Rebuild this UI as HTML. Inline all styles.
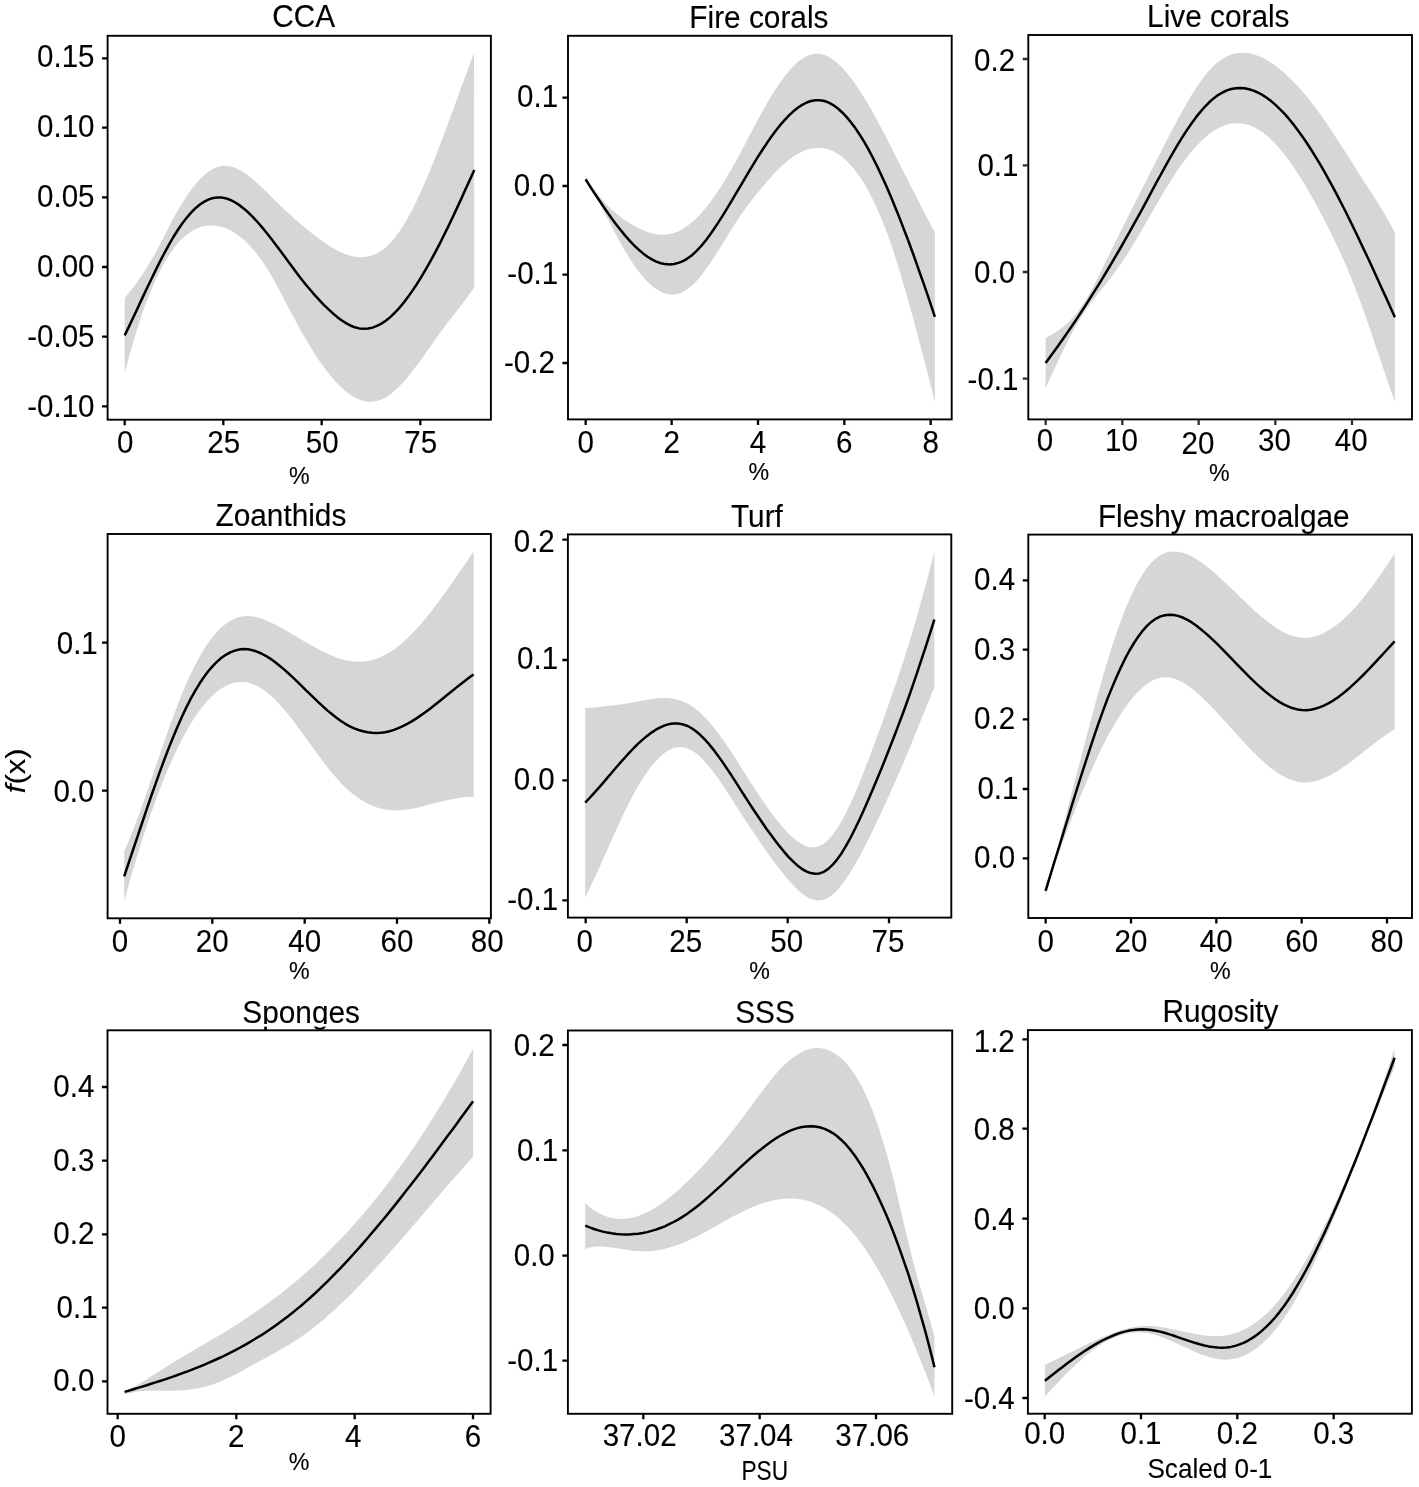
<!DOCTYPE html>
<html lang="en"><head><meta charset="utf-8"><title>GAM partial effects</title>
<style>
html,body{margin:0;padding:0;background:#fff;}
body{width:1419px;height:1487px;overflow:hidden;}
svg{display:block;will-change:transform;}
text{font-family:"Liberation Sans",sans-serif;fill:#000;stroke:#000;stroke-width:0.12px;}
</style></head>
<body>
<svg width="1419" height="1487" viewBox="0 0 1419 1487">
<rect width="1419" height="1487" fill="#fff"/>
<g><text transform="translate(303.6 27.1) scale(1.0 1.07)" font-size="29.8" text-anchor="middle">CCA</text>
<rect x="107.60" y="35.80" width="383.30" height="383.90" fill="#fff"/>
<path d="M124.7 298.0 L129.1 292.6 L133.5 287.0 L137.9 280.9 L142.4 274.5 L146.8 267.6 L151.2 260.3 L155.6 252.6 L160.0 244.3 L164.5 235.7 L168.9 227.1 L173.3 218.6 L177.7 210.6 L182.2 203.2 L186.6 196.3 L191.0 190.0 L195.4 184.3 L199.8 179.3 L204.3 175.0 L208.7 171.5 L213.1 168.8 L217.5 166.9 L221.9 165.9 L226.4 165.7 L230.8 166.4 L235.2 167.8 L239.6 169.9 L244.1 172.6 L248.5 175.7 L252.9 179.3 L257.3 183.2 L261.7 187.3 L266.2 191.6 L270.6 196.0 L275.0 200.4 L279.4 204.8 L283.9 209.0 L288.3 213.1 L292.7 217.1 L297.1 221.0 L301.5 224.8 L306.0 228.5 L310.4 232.1 L314.8 235.5 L319.2 238.8 L323.7 242.0 L328.1 245.0 L332.5 247.8 L336.9 250.3 L341.3 252.4 L345.8 254.3 L350.2 255.7 L354.6 256.7 L359.0 257.2 L363.5 257.1 L367.9 256.5 L372.3 255.3 L376.7 253.4 L381.1 250.8 L385.6 247.4 L390.0 243.3 L394.4 238.3 L398.8 232.5 L403.2 225.8 L407.7 218.2 L412.1 210.0 L416.5 201.1 L420.9 191.5 L425.4 181.5 L429.8 170.9 L434.2 159.9 L438.6 148.6 L443.0 136.9 L447.5 125.1 L451.9 113.1 L456.3 101.0 L460.7 88.8 L465.2 76.7 L469.6 64.7 L474.0 52.9 L474.3 287.2 L469.9 293.7 L465.4 299.7 L461.0 305.6 L456.6 311.2 L452.2 316.9 L447.7 322.6 L443.3 328.5 L438.9 334.5 L434.5 340.7 L430.0 347.0 L425.6 353.3 L421.2 359.5 L416.8 365.5 L412.3 371.3 L407.9 376.8 L403.5 381.9 L399.1 386.6 L394.6 390.8 L390.2 394.4 L385.8 397.4 L381.4 399.6 L376.9 401.0 L372.5 401.7 L368.1 401.7 L363.7 400.9 L359.2 399.5 L354.8 397.4 L350.4 394.7 L346.0 391.5 L341.5 387.6 L337.1 383.2 L332.7 378.3 L328.3 373.0 L323.8 367.1 L319.4 360.9 L315.0 354.2 L310.6 347.2 L306.1 339.8 L301.7 332.2 L297.3 324.2 L292.9 316.0 L288.4 307.5 L284.0 298.9 L279.6 290.4 L275.2 282.2 L270.7 274.4 L266.3 267.2 L261.9 260.7 L257.5 254.7 L253.0 249.3 L248.6 244.4 L244.2 240.1 L239.8 236.4 L235.3 233.2 L230.9 230.5 L226.5 228.4 L222.1 226.9 L217.6 225.9 L213.2 225.4 L208.8 225.4 L204.4 226.0 L199.9 227.2 L195.5 229.0 L191.1 231.5 L186.7 234.7 L182.2 238.6 L177.8 243.3 L173.4 248.7 L169.0 255.1 L164.5 262.3 L160.1 270.5 L155.7 279.6 L151.3 289.7 L146.8 300.8 L142.4 313.0 L138.0 326.4 L133.6 340.8 L129.1 356.5 L124.7 373.4Z" fill="#d6d6d6"/>
<path d="M124.7 335.4 L129.1 326.2 L133.6 316.8 L138.0 307.4 L142.4 297.9 L146.8 288.5 L151.3 279.2 L155.7 270.1 L160.1 261.3 L164.5 252.8 L169.0 244.7 L173.4 237.0 L177.8 230.0 L182.2 223.5 L186.7 217.7 L191.1 212.6 L195.5 208.2 L199.9 204.5 L204.4 201.6 L208.8 199.4 L213.2 198.0 L217.6 197.4 L222.1 197.6 L226.5 198.5 L230.9 200.2 L235.3 202.5 L239.8 205.4 L244.2 208.9 L248.6 212.8 L253.0 217.2 L257.5 222.0 L261.9 227.1 L266.3 232.5 L270.7 238.1 L275.2 243.9 L279.6 249.8 L284.0 255.8 L288.4 261.8 L292.9 267.8 L297.3 273.7 L301.7 279.4 L306.1 285.0 L310.6 290.3 L315.0 295.4 L319.4 300.2 L323.8 304.8 L328.3 309.2 L332.7 313.2 L337.1 316.9 L341.5 320.3 L346.0 323.1 L350.4 325.5 L354.8 327.3 L359.2 328.4 L363.7 328.8 L368.1 328.5 L372.5 327.6 L376.9 325.9 L381.4 323.6 L385.8 320.7 L390.2 317.1 L394.6 313.0 L399.1 308.2 L403.5 302.9 L407.9 297.1 L412.3 290.9 L416.8 284.2 L421.2 277.1 L425.6 269.7 L430.0 261.9 L434.5 253.7 L438.9 245.3 L443.3 236.5 L447.7 227.6 L452.2 218.3 L456.6 208.9 L461.0 199.4 L465.4 189.6 L469.9 179.8 L474.3 170.0" fill="none" stroke="#000" stroke-width="2.5" stroke-linejoin="round"/>
<rect x="107.60" y="35.80" width="383.30" height="383.90" fill="none" stroke="#000" stroke-width="1.9"/>
<text transform="translate(94.5 67.3) scale(0.985 1.065)" font-size="30.0" text-anchor="end">0.15</text>
<text transform="translate(94.5 136.7) scale(0.985 1.065)" font-size="30.0" text-anchor="end">0.10</text>
<text transform="translate(94.5 206.8) scale(0.985 1.065)" font-size="30.0" text-anchor="end">0.05</text>
<text transform="translate(94.5 277.2) scale(0.985 1.065)" font-size="30.0" text-anchor="end">0.00</text>
<text transform="translate(94.5 346.9) scale(0.985 1.065)" font-size="30.0" text-anchor="end">-0.05</text>
<text transform="translate(94.5 416.5) scale(0.985 1.065)" font-size="30.0" text-anchor="end">-0.10</text>
<text transform="translate(125.2 452.7) scale(0.985 1.04)" font-size="30.0" text-anchor="middle">0</text>
<text transform="translate(223.8 452.7) scale(0.985 1.04)" font-size="30.0" text-anchor="middle">25</text>
<text transform="translate(322.2 452.7) scale(0.985 1.04)" font-size="30.0" text-anchor="middle">50</text>
<text transform="translate(420.8 452.7) scale(0.985 1.04)" font-size="30.0" text-anchor="middle">75</text>
<path d="M102.05 58.33H107.60M102.05 127.67H107.60M102.05 197.33H107.60M102.05 267.00H107.60M102.05 336.67H107.60M102.05 406.33H107.60M124.67 419.70V425.25M223.33 419.70V425.25M321.67 419.70V425.25M420.33 419.70V425.25" fill="none" stroke="#000" stroke-width="2.3"/>
<text transform="translate(299.2 483.6) scale(1.0 1.0)" font-size="23.2" text-anchor="middle">%</text></g>
<g><text transform="translate(758.9 27.6) scale(1.0 1.07)" font-size="29.8" text-anchor="middle">Fire corals</text>
<rect x="568.00" y="35.80" width="383.70" height="383.60" fill="#fff"/>
<path d="M585.6 175.8 L590.0 183.1 L594.4 189.7 L598.9 195.6 L603.3 200.9 L607.7 205.7 L612.1 210.0 L616.6 213.8 L621.0 217.3 L625.4 220.4 L629.8 223.2 L634.2 225.8 L638.7 228.1 L643.1 230.2 L647.5 231.9 L651.9 233.3 L656.3 234.2 L660.8 234.7 L665.2 234.7 L669.6 234.1 L674.0 233.0 L678.5 231.2 L682.9 228.9 L687.3 225.9 L691.7 222.4 L696.1 218.4 L700.6 213.8 L705.0 208.7 L709.4 203.2 L713.8 197.2 L718.2 190.7 L722.7 183.9 L727.1 176.6 L731.5 169.0 L735.9 161.0 L740.4 152.9 L744.8 144.5 L749.2 136.1 L753.6 127.7 L758.0 119.4 L762.5 111.2 L766.9 103.4 L771.3 95.9 L775.7 88.9 L780.1 82.4 L784.6 76.4 L789.0 70.9 L793.4 66.1 L797.8 62.1 L802.3 58.7 L806.7 56.2 L811.1 54.5 L815.5 53.7 L819.9 53.8 L824.4 54.9 L828.8 56.9 L833.2 59.7 L837.6 63.3 L842.0 67.5 L846.5 72.5 L850.9 78.0 L855.3 84.1 L859.7 90.6 L864.2 97.6 L868.6 105.0 L873.0 112.8 L877.4 120.8 L881.8 129.1 L886.3 137.6 L890.7 146.2 L895.1 154.9 L899.5 163.7 L903.9 172.5 L908.4 181.2 L912.8 189.9 L917.2 198.6 L921.6 207.2 L926.1 215.8 L930.5 224.4 L934.9 232.5 L934.9 402.0 L930.5 384.6 L926.1 367.3 L921.6 350.2 L917.2 333.4 L912.8 316.9 L908.4 300.9 L903.9 285.4 L899.5 270.5 L895.1 256.4 L890.7 243.2 L886.3 230.9 L881.8 219.6 L877.4 209.3 L873.0 199.9 L868.6 191.3 L864.2 183.6 L859.7 176.7 L855.3 170.6 L850.9 165.3 L846.5 160.7 L842.0 156.8 L837.6 153.7 L833.2 151.2 L828.8 149.5 L824.4 148.3 L819.9 147.8 L815.5 147.9 L811.1 148.6 L806.7 149.8 L802.3 151.5 L797.8 153.8 L793.4 156.6 L789.0 159.8 L784.6 163.5 L780.1 167.6 L775.7 172.1 L771.3 176.8 L766.9 181.8 L762.5 186.9 L758.0 192.2 L753.6 197.7 L749.2 203.4 L744.8 209.4 L740.4 215.7 L735.9 222.4 L731.5 229.3 L727.1 236.4 L722.7 243.6 L718.2 250.7 L713.8 257.7 L709.4 264.3 L705.0 270.6 L700.6 276.3 L696.1 281.4 L691.7 285.8 L687.3 289.3 L682.9 292.0 L678.5 293.7 L674.0 294.5 L669.6 294.4 L665.2 293.5 L660.8 291.7 L656.3 289.1 L651.9 285.8 L647.5 281.7 L643.1 276.9 L638.7 271.5 L634.2 265.4 L629.8 258.7 L625.4 251.4 L621.0 243.7 L616.6 235.7 L612.1 227.4 L607.7 219.1 L603.3 210.8 L598.9 202.6 L594.4 194.7 L590.0 187.1 L585.6 180.1Z" fill="#d6d6d6"/>
<path d="M585.6 179.4 L590.0 186.3 L594.4 193.1 L598.9 199.8 L603.3 206.4 L607.7 212.8 L612.1 219.0 L616.6 224.9 L621.0 230.5 L625.4 235.9 L629.8 240.9 L634.2 245.5 L638.7 249.7 L643.1 253.4 L647.5 256.7 L651.9 259.4 L656.3 261.6 L660.8 263.2 L665.2 264.1 L669.6 264.4 L674.0 264.0 L678.5 262.9 L682.9 261.1 L687.3 258.6 L691.7 255.4 L696.1 251.4 L700.6 246.7 L705.0 241.4 L709.4 235.6 L713.8 229.3 L718.2 222.6 L722.7 215.6 L727.1 208.4 L731.5 201.1 L735.9 193.6 L740.4 186.1 L744.8 178.6 L749.2 171.1 L753.6 163.8 L758.0 156.7 L762.5 149.7 L766.9 143.1 L771.3 136.7 L775.7 130.8 L780.1 125.2 L784.6 120.1 L789.0 115.4 L793.4 111.3 L797.8 107.8 L802.3 104.8 L806.7 102.5 L811.1 101.0 L815.5 100.2 L819.9 100.2 L824.4 101.0 L828.8 102.7 L833.2 105.1 L837.6 108.3 L842.0 112.2 L846.5 116.9 L850.9 122.2 L855.3 128.1 L859.7 134.7 L864.2 141.9 L868.6 149.7 L873.0 158.0 L877.4 166.8 L881.8 176.2 L886.3 186.0 L890.7 196.2 L895.1 206.9 L899.5 217.9 L903.9 229.3 L908.4 241.0 L912.8 253.0 L917.2 265.3 L921.6 277.9 L926.1 290.7 L930.5 303.7 L934.9 316.8" fill="none" stroke="#000" stroke-width="2.5" stroke-linejoin="round"/>
<rect x="568.00" y="35.80" width="383.70" height="383.60" fill="none" stroke="#000" stroke-width="1.9"/>
<text transform="translate(558.2 107.3) scale(0.985 1.065)" font-size="30.0" text-anchor="end">0.1</text>
<text transform="translate(554.9 195.6) scale(0.985 1.065)" font-size="30.0" text-anchor="end">0.0</text>
<text transform="translate(558.2 284.3) scale(0.985 1.065)" font-size="30.0" text-anchor="end">-0.1</text>
<text transform="translate(554.9 372.6) scale(0.985 1.065)" font-size="30.0" text-anchor="end">-0.2</text>
<text transform="translate(585.7 453.2) scale(0.985 1.04)" font-size="30.0" text-anchor="middle">0</text>
<text transform="translate(671.7 453.2) scale(0.985 1.04)" font-size="30.0" text-anchor="middle">2</text>
<text transform="translate(758.0 453.2) scale(0.985 1.04)" font-size="30.0" text-anchor="middle">4</text>
<text transform="translate(844.3 453.2) scale(0.985 1.04)" font-size="30.0" text-anchor="middle">6</text>
<text transform="translate(930.7 453.2) scale(0.985 1.04)" font-size="30.0" text-anchor="middle">8</text>
<path d="M562.45 97.67H568.00M562.45 186.00H568.00M562.45 274.67H568.00M562.45 363.00H568.00M585.67 419.40V424.95M671.67 419.40V424.95M758.00 419.40V424.95M844.33 419.40V424.95M930.67 419.40V424.95" fill="none" stroke="#000" stroke-width="2.3"/>
<text transform="translate(758.9 480.3) scale(1.0 1.0)" font-size="23.2" text-anchor="middle">%</text></g>
<g><text transform="translate(1218.3 26.9) scale(1.0 1.07)" font-size="29.8" text-anchor="middle">Live corals</text>
<rect x="1028.30" y="35.00" width="383.70" height="384.40" fill="#fff"/>
<path d="M1045.6 337.9 L1050.0 335.5 L1054.4 332.9 L1058.9 330.1 L1063.3 326.8 L1067.7 323.0 L1072.1 318.6 L1076.6 313.4 L1081.0 307.3 L1085.4 300.5 L1089.8 292.9 L1094.2 284.7 L1098.7 276.1 L1103.1 267.1 L1107.5 258.0 L1111.9 248.9 L1116.3 239.9 L1120.8 231.0 L1125.2 222.2 L1129.6 213.4 L1134.0 204.7 L1138.5 196.0 L1142.9 187.3 L1147.3 178.5 L1151.7 169.8 L1156.1 161.1 L1160.6 152.4 L1165.0 143.8 L1169.4 135.2 L1173.8 126.8 L1178.2 118.5 L1182.7 110.4 L1187.1 102.7 L1191.5 95.2 L1195.9 88.3 L1200.4 81.8 L1204.8 75.8 L1209.2 70.5 L1213.6 65.8 L1218.0 61.9 L1222.5 58.7 L1226.9 56.3 L1231.3 54.4 L1235.7 53.3 L1240.1 52.7 L1244.6 52.7 L1249.0 53.2 L1253.4 54.2 L1257.8 55.7 L1262.3 57.6 L1266.7 60.0 L1271.1 62.7 L1275.5 65.7 L1279.9 69.2 L1284.4 73.0 L1288.8 77.2 L1293.2 81.5 L1297.6 86.0 L1302.0 90.9 L1306.5 96.1 L1310.9 101.7 L1315.3 107.5 L1319.7 113.5 L1324.2 119.7 L1328.6 126.2 L1333.0 132.9 L1337.4 139.7 L1341.8 146.6 L1346.3 153.5 L1350.7 160.3 L1355.1 167.6 L1359.5 174.7 L1363.9 181.4 L1368.4 187.9 L1372.8 194.8 L1377.2 201.8 L1381.6 208.9 L1386.1 216.3 L1390.5 224.3 L1394.9 232.8 L1394.9 401.5 L1390.5 389.4 L1386.1 376.7 L1381.6 363.7 L1377.2 350.5 L1372.8 337.4 L1368.4 324.3 L1363.9 311.6 L1359.5 299.4 L1355.1 287.7 L1350.7 276.7 L1346.3 266.1 L1341.8 256.1 L1337.4 246.4 L1333.0 237.2 L1328.6 228.3 L1324.2 219.7 L1319.7 211.3 L1315.3 203.1 L1310.9 195.2 L1306.5 187.6 L1302.0 180.3 L1297.6 173.2 L1293.2 166.6 L1288.8 160.3 L1284.4 154.4 L1279.9 149.0 L1275.5 144.0 L1271.1 139.5 L1266.7 135.5 L1262.3 132.1 L1257.8 129.2 L1253.4 126.9 L1249.0 125.1 L1244.6 123.9 L1240.1 123.3 L1235.7 123.2 L1231.3 123.6 L1226.9 124.6 L1222.5 126.2 L1218.0 128.3 L1213.6 130.9 L1209.2 134.1 L1204.8 137.8 L1200.4 142.0 L1195.9 146.6 L1191.5 151.7 L1187.1 157.2 L1182.7 163.1 L1178.2 169.3 L1173.8 175.9 L1169.4 182.9 L1165.0 190.1 L1160.6 197.5 L1156.1 205.2 L1151.7 212.9 L1147.3 220.6 L1142.9 228.3 L1138.5 235.8 L1134.0 243.2 L1129.6 250.4 L1125.2 257.3 L1120.8 263.9 L1116.3 270.3 L1111.9 276.3 L1107.5 282.1 L1103.1 287.6 L1098.7 293.1 L1094.2 298.6 L1089.8 304.5 L1085.4 310.7 L1081.0 317.4 L1076.6 324.7 L1072.1 332.7 L1067.7 341.2 L1063.3 350.2 L1058.9 359.5 L1054.4 369.0 L1050.0 378.6 L1045.6 388.1Z" fill="#d6d6d6"/>
<path d="M1045.6 363.0 L1050.0 357.0 L1054.4 351.0 L1058.9 344.8 L1063.3 338.5 L1067.7 332.1 L1072.1 325.7 L1076.6 319.1 L1081.0 312.4 L1085.4 305.6 L1089.8 298.7 L1094.2 291.7 L1098.7 284.6 L1103.1 277.3 L1107.5 270.0 L1111.9 262.6 L1116.3 255.1 L1120.8 247.5 L1125.2 239.7 L1129.6 231.9 L1134.0 223.9 L1138.5 215.9 L1142.9 207.8 L1147.3 199.6 L1151.7 191.3 L1156.1 183.1 L1160.6 175.0 L1165.0 166.9 L1169.4 159.0 L1173.8 151.4 L1178.2 143.9 L1182.7 136.7 L1187.1 129.9 L1191.5 123.5 L1195.9 117.4 L1200.4 111.9 L1204.8 106.8 L1209.2 102.3 L1213.6 98.4 L1218.0 95.1 L1222.5 92.5 L1226.9 90.4 L1231.3 89.0 L1235.7 88.2 L1240.1 88.0 L1244.6 88.3 L1249.0 89.2 L1253.4 90.6 L1257.8 92.5 L1262.3 94.9 L1266.7 97.7 L1271.1 101.1 L1275.5 104.9 L1279.9 109.1 L1284.4 113.7 L1288.8 118.7 L1293.2 124.1 L1297.6 129.9 L1302.0 136.0 L1306.5 142.5 L1310.9 149.3 L1315.3 156.4 L1319.7 163.7 L1324.2 171.4 L1328.6 179.3 L1333.0 187.4 L1337.4 195.7 L1341.8 204.3 L1346.3 213.0 L1350.7 222.0 L1355.1 231.0 L1359.5 240.3 L1363.9 249.6 L1368.4 259.0 L1372.8 268.6 L1377.2 278.2 L1381.6 287.9 L1386.1 297.6 L1390.5 307.4 L1394.9 317.2" fill="none" stroke="#000" stroke-width="2.5" stroke-linejoin="round"/>
<rect x="1028.30" y="35.00" width="383.70" height="384.40" fill="none" stroke="#000" stroke-width="1.9"/>
<text transform="translate(1015.2 71.1) scale(0.985 1.065)" font-size="30.0" text-anchor="end">0.2</text>
<text transform="translate(1018.5 176.1) scale(0.985 1.065)" font-size="30.0" text-anchor="end">0.1</text>
<text transform="translate(1015.2 282.8) scale(0.985 1.065)" font-size="30.0" text-anchor="end">0.0</text>
<text transform="translate(1018.5 389.5) scale(0.985 1.065)" font-size="30.0" text-anchor="end">-0.1</text>
<text transform="translate(1044.9 450.6) scale(0.985 1.04)" font-size="30.0" text-anchor="middle">0</text>
<text transform="translate(1121.5 450.6) scale(0.985 1.04)" font-size="30.0" text-anchor="middle">10</text>
<text transform="translate(1197.9 453.6) scale(0.985 1.04)" font-size="30.0" text-anchor="middle">20</text>
<text transform="translate(1274.5 450.6) scale(0.985 1.04)" font-size="30.0" text-anchor="middle">30</text>
<text transform="translate(1351.2 450.6) scale(0.985 1.04)" font-size="30.0" text-anchor="middle">40</text>
<path d="M1022.75 59.00H1028.30M1022.75 165.33H1028.30M1022.75 272.00H1028.30M1022.75 378.67H1028.30M1045.67 419.40V424.95M1122.33 419.40V424.95M1198.67 419.40V424.95M1275.33 419.40V424.95M1352.00 419.40V424.95" fill="none" stroke="#2e2e2e" stroke-width="2.3"/>
<text transform="translate(1219.2 480.9) scale(1.0 1.0)" font-size="23.2" text-anchor="middle">%</text></g>
<g><text transform="translate(280.9 526.3) scale(1.0 1.07)" font-size="29.8" text-anchor="middle">Zoanthids</text>
<rect x="107.60" y="534.00" width="383.30" height="384.30" fill="#fff"/>
<path d="M124.2 851.6 L128.6 841.3 L133.0 830.2 L137.5 818.5 L141.9 806.3 L146.3 793.7 L150.7 780.8 L155.2 767.9 L159.6 754.9 L164.0 742.2 L168.4 729.7 L172.9 717.5 L177.3 705.8 L181.7 694.6 L186.1 684.1 L190.5 674.3 L195.0 665.2 L199.4 656.9 L203.8 649.4 L208.2 642.8 L212.7 636.8 L217.1 631.7 L221.5 627.3 L225.9 623.7 L230.3 620.8 L234.8 618.6 L239.2 617.1 L243.6 616.2 L248.0 616.0 L252.5 616.4 L256.9 617.3 L261.3 618.6 L265.7 620.2 L270.2 622.2 L274.6 624.3 L279.0 626.7 L283.4 629.1 L287.8 631.6 L292.3 634.2 L296.7 636.8 L301.1 639.4 L305.5 642.0 L310.0 644.6 L314.4 647.0 L318.8 649.4 L323.2 651.7 L327.6 653.8 L332.1 655.8 L336.5 657.5 L340.9 659.0 L345.3 660.2 L349.8 661.1 L354.2 661.6 L358.6 661.8 L363.0 661.6 L367.5 661.0 L371.9 660.0 L376.3 658.7 L380.7 657.0 L385.1 654.8 L389.6 652.3 L394.0 649.4 L398.4 646.0 L402.8 642.4 L407.3 638.3 L411.7 634.0 L416.1 629.3 L420.5 624.4 L424.9 619.2 L429.4 613.7 L433.8 608.0 L438.2 602.2 L442.6 596.2 L447.1 590.0 L451.5 583.7 L455.9 577.4 L460.3 571.0 L464.8 564.6 L469.2 558.1 L473.6 551.8 L473.6 797.0 L469.2 797.1 L464.8 797.3 L460.3 797.8 L455.9 798.5 L451.5 799.3 L447.1 800.2 L442.6 801.2 L438.2 802.3 L433.8 803.5 L429.4 804.6 L424.9 805.8 L420.5 806.9 L416.1 807.9 L411.7 808.8 L407.3 809.5 L402.8 810.0 L398.4 810.3 L394.0 810.4 L389.6 810.1 L385.1 809.5 L380.7 808.6 L376.3 807.3 L371.9 805.6 L367.5 803.5 L363.0 801.1 L358.6 798.3 L354.2 795.1 L349.8 791.4 L345.3 787.4 L340.9 782.9 L336.5 778.1 L332.1 772.9 L327.6 767.4 L323.2 761.7 L318.8 755.8 L314.4 749.8 L310.0 743.7 L305.5 737.5 L301.1 731.5 L296.7 725.5 L292.3 719.6 L287.8 714.0 L283.4 708.7 L279.0 703.7 L274.6 699.1 L270.2 695.0 L265.7 691.4 L261.3 688.3 L256.9 685.8 L252.5 683.9 L248.0 682.6 L243.6 682.0 L239.2 682.0 L234.8 682.6 L230.3 683.9 L225.9 685.8 L221.5 688.4 L217.1 691.6 L212.7 695.4 L208.2 699.8 L203.8 704.9 L199.4 710.7 L195.0 717.1 L190.5 724.1 L186.1 731.8 L181.7 740.0 L177.3 748.8 L172.9 758.2 L168.4 768.1 L164.0 778.7 L159.6 789.9 L155.2 801.7 L150.7 814.1 L146.3 827.1 L141.9 840.7 L137.5 854.9 L133.0 869.8 L128.6 885.2 L124.2 901.2Z" fill="#d6d6d6"/>
<path d="M124.2 876.4 L128.6 863.2 L133.0 850.0 L137.5 836.7 L141.9 823.5 L146.3 810.4 L150.7 797.5 L155.2 784.8 L159.6 772.4 L164.0 760.5 L168.4 748.9 L172.9 737.8 L177.3 727.3 L181.7 717.3 L186.1 707.9 L190.5 699.2 L195.0 691.1 L199.4 683.8 L203.8 677.2 L208.2 671.3 L212.7 666.1 L217.1 661.6 L221.5 657.8 L225.9 654.8 L230.3 652.3 L234.8 650.6 L239.2 649.5 L243.6 649.1 L248.0 649.3 L252.5 650.2 L256.9 651.6 L261.3 653.5 L265.7 655.8 L270.2 658.6 L274.6 661.7 L279.0 665.2 L283.4 668.9 L287.8 672.8 L292.3 676.9 L296.7 681.1 L301.1 685.4 L305.5 689.8 L310.0 694.1 L314.4 698.4 L318.8 702.6 L323.2 706.7 L327.6 710.6 L332.1 714.3 L336.5 717.8 L340.9 721.0 L345.3 723.8 L349.8 726.3 L354.2 728.3 L358.6 730.0 L363.0 731.3 L367.5 732.3 L371.9 732.8 L376.3 733.0 L380.7 732.8 L385.1 732.2 L389.6 731.2 L394.0 729.9 L398.4 728.2 L402.8 726.2 L407.3 723.9 L411.7 721.4 L416.1 718.6 L420.5 715.6 L424.9 712.5 L429.4 709.2 L433.8 705.8 L438.2 702.3 L442.6 698.7 L447.1 695.1 L451.5 691.5 L455.9 687.9 L460.3 684.4 L464.8 680.9 L469.2 677.6 L473.6 674.4" fill="none" stroke="#000" stroke-width="2.5" stroke-linejoin="round"/>
<rect x="107.60" y="534.00" width="383.30" height="384.30" fill="none" stroke="#000" stroke-width="1.9"/>
<text transform="translate(97.8 653.5) scale(0.985 1.065)" font-size="30.0" text-anchor="end">0.1</text>
<text transform="translate(94.5 801.5) scale(0.985 1.065)" font-size="30.0" text-anchor="end">0.0</text>
<text transform="translate(120.0 952.0) scale(0.985 1.04)" font-size="30.0" text-anchor="middle">0</text>
<text transform="translate(212.3 952.0) scale(0.985 1.04)" font-size="30.0" text-anchor="middle">20</text>
<text transform="translate(304.7 952.0) scale(0.985 1.04)" font-size="30.0" text-anchor="middle">40</text>
<text transform="translate(397.0 952.0) scale(0.985 1.04)" font-size="30.0" text-anchor="middle">60</text>
<text transform="translate(487.3 952.0) scale(0.985 1.04)" font-size="30.0" text-anchor="middle">80</text>
<path d="M102.05 642.67H107.60M102.05 790.67H107.60M120.00 918.30V923.85M212.33 918.30V923.85M304.67 918.30V923.85M397.00 918.30V923.85M489.33 918.30V923.85" fill="none" stroke="#000" stroke-width="2.3"/>
<text transform="translate(299.2 979.2) scale(1.0 1.0)" font-size="23.2" text-anchor="middle">%</text></g>
<g><text transform="translate(756.9 526.7) scale(1.0 1.07)" font-size="29.8" text-anchor="middle">Turf</text>
<rect x="567.90" y="534.40" width="383.40" height="383.20" fill="#fff"/>
<path d="M585.2 708.0 L589.6 707.7 L594.0 707.4 L598.5 707.0 L602.9 706.6 L607.3 706.1 L611.7 705.6 L616.1 705.1 L620.6 704.5 L625.0 703.8 L629.4 703.1 L633.8 702.3 L638.2 701.4 L642.7 700.5 L647.1 699.7 L651.5 699.0 L655.9 698.5 L660.3 698.1 L664.8 698.0 L669.2 698.3 L673.6 698.8 L678.0 699.8 L682.4 701.2 L686.9 703.2 L691.3 705.8 L695.7 709.0 L700.1 712.7 L704.5 717.0 L709.0 721.8 L713.4 727.1 L717.8 732.7 L722.2 738.7 L726.6 745.0 L731.1 751.6 L735.5 758.4 L739.9 765.4 L744.3 772.4 L748.7 779.4 L753.2 786.3 L757.6 793.1 L762.0 799.7 L766.4 806.1 L770.9 812.2 L775.3 818.0 L779.7 823.5 L784.1 828.7 L788.5 833.4 L793.0 837.7 L797.4 841.3 L801.8 844.1 L806.2 846.2 L810.6 847.2 L815.1 847.3 L819.5 846.1 L823.9 843.7 L828.3 839.9 L832.7 834.8 L837.2 828.6 L841.6 821.2 L846.0 812.8 L850.4 803.7 L854.8 793.7 L859.3 783.2 L863.7 772.1 L868.1 760.7 L872.5 749.0 L876.9 737.0 L881.4 724.9 L885.8 712.6 L890.2 700.0 L894.6 687.3 L899.0 674.2 L903.5 660.7 L907.9 646.7 L912.3 632.2 L916.7 617.2 L921.1 601.6 L925.6 585.6 L930.0 569.0 L934.4 551.8 L934.4 687.1 L930.0 697.9 L925.6 708.8 L921.1 719.8 L916.7 730.7 L912.3 741.5 L907.9 752.2 L903.5 762.7 L899.0 773.1 L894.6 783.1 L890.2 793.0 L885.8 802.8 L881.4 812.4 L876.9 821.8 L872.5 830.9 L868.1 839.9 L863.7 848.5 L859.3 856.9 L854.8 864.8 L850.4 872.2 L846.0 879.1 L841.6 885.1 L837.2 890.3 L832.7 894.6 L828.3 897.8 L823.9 899.8 L819.5 900.6 L815.1 900.3 L810.6 898.9 L806.2 896.5 L801.8 893.4 L797.4 889.5 L793.0 885.1 L788.5 880.2 L784.1 874.8 L779.7 869.2 L775.3 863.4 L770.9 857.5 L766.4 851.3 L762.0 845.0 L757.6 838.6 L753.2 832.1 L748.7 825.4 L744.3 818.7 L739.9 811.8 L735.5 804.9 L731.1 798.1 L726.6 791.2 L722.2 784.6 L717.8 778.1 L713.4 772.1 L709.0 766.4 L704.5 761.3 L700.1 756.8 L695.7 753.1 L691.3 750.2 L686.9 748.2 L682.4 747.2 L678.0 747.2 L673.6 748.1 L669.2 750.0 L664.8 752.8 L660.3 756.4 L655.9 760.9 L651.5 766.1 L647.1 772.0 L642.7 778.6 L638.2 785.9 L633.8 793.8 L629.4 802.2 L625.0 811.1 L620.6 820.4 L616.1 830.0 L611.7 839.8 L607.3 849.7 L602.9 859.6 L598.5 869.4 L594.0 879.0 L589.6 888.4 L585.2 897.3Z" fill="#d6d6d6"/>
<path d="M585.2 802.7 L589.6 798.0 L594.0 793.2 L598.5 788.2 L602.9 783.1 L607.3 777.9 L611.7 772.7 L616.1 767.5 L620.6 762.4 L625.0 757.5 L629.4 752.6 L633.8 748.0 L638.2 743.6 L642.7 739.6 L647.1 735.9 L651.5 732.6 L655.9 729.7 L660.3 727.3 L664.8 725.4 L669.2 724.1 L673.6 723.5 L678.0 723.5 L682.4 724.2 L686.9 725.7 L691.3 728.0 L695.7 731.0 L700.1 734.8 L704.5 739.2 L709.0 744.1 L713.4 749.6 L717.8 755.4 L722.2 761.6 L726.6 768.1 L731.1 774.8 L735.5 781.7 L739.9 788.6 L744.3 795.5 L748.7 802.4 L753.2 809.2 L757.6 815.8 L762.0 822.3 L766.4 828.7 L770.9 834.8 L775.3 840.7 L779.7 846.4 L784.1 851.8 L788.5 856.8 L793.0 861.4 L797.4 865.4 L801.8 868.8 L806.2 871.3 L810.6 873.1 L815.1 873.8 L819.5 873.4 L823.9 871.8 L828.3 868.9 L832.7 864.7 L837.2 859.4 L841.6 853.2 L846.0 845.9 L850.4 838.0 L854.8 829.3 L859.3 820.0 L863.7 810.3 L868.1 800.3 L872.5 790.0 L876.9 779.4 L881.4 768.7 L885.8 757.7 L890.2 746.5 L894.6 735.2 L899.0 723.6 L903.5 711.7 L907.9 699.5 L912.3 686.8 L916.7 673.9 L921.1 660.7 L925.6 647.2 L930.0 633.4 L934.4 619.5" fill="none" stroke="#000" stroke-width="2.5" stroke-linejoin="round"/>
<rect x="567.90" y="534.40" width="383.40" height="383.20" fill="none" stroke="#000" stroke-width="1.9"/>
<text transform="translate(554.8 551.5) scale(0.985 1.065)" font-size="30.0" text-anchor="end">0.2</text>
<text transform="translate(558.1 669.2) scale(0.985 1.065)" font-size="30.0" text-anchor="end">0.1</text>
<text transform="translate(554.8 789.5) scale(0.985 1.065)" font-size="30.0" text-anchor="end">0.0</text>
<text transform="translate(558.1 909.5) scale(0.985 1.065)" font-size="30.0" text-anchor="end">-0.1</text>
<text transform="translate(584.7 952.1) scale(0.985 1.04)" font-size="30.0" text-anchor="middle">0</text>
<text transform="translate(685.7 952.1) scale(0.985 1.04)" font-size="30.0" text-anchor="middle">25</text>
<text transform="translate(786.7 952.1) scale(0.985 1.04)" font-size="30.0" text-anchor="middle">50</text>
<text transform="translate(888.0 952.1) scale(0.985 1.04)" font-size="30.0" text-anchor="middle">75</text>
<path d="M562.35 539.67H567.90M562.35 660.00H567.90M562.35 780.33H567.90M562.35 900.33H567.90M585.67 917.60V923.15M686.67 917.60V923.15M787.67 917.60V923.15M889.00 917.60V923.15" fill="none" stroke="#000" stroke-width="2.3"/>
<text transform="translate(759.6 978.5) scale(1.0 1.0)" font-size="23.2" text-anchor="middle">%</text></g>
<g><text transform="translate(1223.8 527.1) scale(1.0 1.07)" font-size="29.8" text-anchor="middle">Fleshy macroalgae</text>
<rect x="1028.30" y="534.60" width="383.70" height="383.40" fill="#fff"/>
<path d="M1045.6 885.2 L1050.0 873.1 L1054.4 858.6 L1058.9 842.6 L1063.3 825.7 L1067.7 808.7 L1072.1 791.7 L1076.5 774.6 L1080.9 757.6 L1085.4 740.8 L1089.8 724.1 L1094.2 707.7 L1098.6 691.7 L1103.0 676.1 L1107.4 661.3 L1111.9 647.1 L1116.3 633.7 L1120.7 621.2 L1125.1 609.7 L1129.5 599.2 L1134.0 589.7 L1138.4 581.3 L1142.8 573.9 L1147.2 567.6 L1151.6 562.4 L1156.0 558.2 L1160.5 555.1 L1164.9 553.0 L1169.3 551.8 L1173.7 551.4 L1178.1 551.7 L1182.5 552.7 L1187.0 554.2 L1191.4 556.3 L1195.8 558.8 L1200.2 561.6 L1204.6 564.8 L1209.1 568.3 L1213.5 572.0 L1217.9 575.9 L1222.3 579.9 L1226.7 584.1 L1231.1 588.3 L1235.6 592.6 L1240.0 596.9 L1244.4 601.1 L1248.8 605.3 L1253.2 609.4 L1257.7 613.4 L1262.1 617.2 L1266.5 620.8 L1270.9 624.1 L1275.3 627.2 L1279.7 630.0 L1284.2 632.4 L1288.6 634.4 L1293.0 636.0 L1297.4 637.1 L1301.8 637.8 L1306.2 637.9 L1310.7 637.4 L1315.1 636.4 L1319.5 635.0 L1323.9 633.0 L1328.3 630.6 L1332.8 627.8 L1337.2 624.5 L1341.6 620.9 L1346.0 616.8 L1350.4 612.4 L1354.8 607.7 L1359.3 602.7 L1363.7 597.3 L1368.1 591.7 L1372.5 585.9 L1376.9 579.8 L1381.3 573.5 L1385.8 566.9 L1390.2 560.3 L1394.6 553.4 L1394.6 729.3 L1390.2 732.0 L1385.8 735.0 L1381.3 738.1 L1376.9 741.4 L1372.5 744.7 L1368.1 748.2 L1363.7 751.7 L1359.3 755.2 L1354.8 758.6 L1350.4 762.0 L1346.0 765.2 L1341.6 768.3 L1337.2 771.2 L1332.8 773.8 L1328.3 776.2 L1323.9 778.2 L1319.5 779.9 L1315.1 781.2 L1310.7 782.1 L1306.2 782.5 L1301.8 782.4 L1297.4 781.7 L1293.0 780.5 L1288.6 778.9 L1284.2 776.8 L1279.7 774.2 L1275.3 771.3 L1270.9 768.0 L1266.5 764.4 L1262.1 760.5 L1257.7 756.3 L1253.2 751.9 L1248.8 747.4 L1244.4 742.7 L1240.0 737.9 L1235.6 733.0 L1231.1 728.1 L1226.7 723.2 L1222.3 718.4 L1217.9 713.5 L1213.5 708.8 L1209.1 704.3 L1204.6 699.9 L1200.2 695.7 L1195.8 691.8 L1191.4 688.2 L1187.0 685.1 L1182.5 682.3 L1178.1 680.2 L1173.7 678.6 L1169.3 677.6 L1164.9 677.3 L1160.5 677.8 L1156.0 679.0 L1151.6 681.0 L1147.2 683.8 L1142.8 687.3 L1138.4 691.5 L1134.0 696.3 L1129.5 701.8 L1125.1 707.8 L1120.7 714.2 L1116.3 721.2 L1111.9 728.8 L1107.4 736.8 L1103.0 745.4 L1098.6 754.5 L1094.2 764.1 L1089.8 774.2 L1085.4 784.6 L1080.9 795.3 L1076.5 806.3 L1072.1 817.6 L1067.7 829.0 L1063.3 840.6 L1058.9 852.4 L1054.4 865.2 L1050.0 879.6 L1045.6 896.3Z" fill="#d6d6d6"/>
<path d="M1045.6 890.8 L1050.0 876.4 L1054.4 861.9 L1058.9 847.5 L1063.3 833.2 L1067.7 818.8 L1072.1 804.6 L1076.5 790.5 L1080.9 776.5 L1085.4 762.7 L1089.8 749.1 L1094.2 735.9 L1098.6 723.1 L1103.0 710.8 L1107.4 699.0 L1111.9 687.9 L1116.3 677.5 L1120.7 667.7 L1125.1 658.7 L1129.5 650.5 L1134.0 643.0 L1138.4 636.4 L1142.8 630.6 L1147.2 625.7 L1151.6 621.7 L1156.0 618.6 L1160.5 616.4 L1164.9 615.2 L1169.3 614.7 L1173.7 615.0 L1178.1 615.9 L1182.5 617.5 L1187.0 619.6 L1191.4 622.2 L1195.8 625.3 L1200.2 628.7 L1204.6 632.4 L1209.1 636.3 L1213.5 640.4 L1217.9 644.7 L1222.3 649.1 L1226.7 653.7 L1231.1 658.2 L1235.6 662.8 L1240.0 667.4 L1244.4 671.9 L1248.8 676.4 L1253.2 680.7 L1257.7 684.9 L1262.1 688.8 L1266.5 692.6 L1270.9 696.0 L1275.3 699.2 L1279.7 702.1 L1284.2 704.6 L1288.6 706.6 L1293.0 708.3 L1297.4 709.4 L1301.8 710.1 L1306.2 710.2 L1310.7 709.7 L1315.1 708.8 L1319.5 707.4 L1323.9 705.6 L1328.3 703.4 L1332.8 700.8 L1337.2 697.9 L1341.6 694.6 L1346.0 691.0 L1350.4 687.2 L1354.8 683.2 L1359.3 678.9 L1363.7 674.5 L1368.1 670.0 L1372.5 665.3 L1376.9 660.6 L1381.3 655.8 L1385.8 651.0 L1390.2 646.2 L1394.6 641.4" fill="none" stroke="#000" stroke-width="2.5" stroke-linejoin="round"/>
<rect x="1028.30" y="534.60" width="383.70" height="383.40" fill="none" stroke="#000" stroke-width="1.9"/>
<text transform="translate(1015.2 590.3) scale(0.985 1.065)" font-size="30.0" text-anchor="end">0.4</text>
<text transform="translate(1015.2 659.7) scale(0.985 1.065)" font-size="30.0" text-anchor="end">0.3</text>
<text transform="translate(1015.2 729.3) scale(0.985 1.065)" font-size="30.0" text-anchor="end">0.2</text>
<text transform="translate(1018.5 799.0) scale(0.985 1.065)" font-size="30.0" text-anchor="end">0.1</text>
<text transform="translate(1015.2 868.3) scale(0.985 1.065)" font-size="30.0" text-anchor="end">0.0</text>
<text transform="translate(1045.7 951.7) scale(0.985 1.04)" font-size="30.0" text-anchor="middle">0</text>
<text transform="translate(1131.0 951.7) scale(0.985 1.04)" font-size="30.0" text-anchor="middle">20</text>
<text transform="translate(1216.3 951.7) scale(0.985 1.04)" font-size="30.0" text-anchor="middle">40</text>
<text transform="translate(1301.7 951.7) scale(0.985 1.04)" font-size="30.0" text-anchor="middle">60</text>
<text transform="translate(1387.0 951.7) scale(0.985 1.04)" font-size="30.0" text-anchor="middle">80</text>
<path d="M1022.75 580.33H1028.30M1022.75 649.67H1028.30M1022.75 719.33H1028.30M1022.75 789.00H1028.30M1022.75 858.33H1028.30M1045.67 918.00V923.55M1131.00 918.00V923.55M1216.33 918.00V923.55M1301.67 918.00V923.55M1387.00 918.00V923.55" fill="none" stroke="#000" stroke-width="2.3"/>
<text transform="translate(1220.2 978.9) scale(1.0 1.0)" font-size="23.2" text-anchor="middle">%</text></g>
<g><text transform="translate(301.1 1022.8) scale(1.0 1.07)" font-size="29.8" text-anchor="middle">Sponges</text>
<rect x="240" y="1024.0" width="124" height="2.6" fill="#fff"/>
<rect x="107.50" y="1030.30" width="383.10" height="383.50" fill="#fff"/>
<path d="M124.6 1391.7 L129.0 1389.5 L133.4 1387.2 L137.8 1384.7 L142.2 1382.1 L146.7 1379.4 L151.1 1376.6 L155.5 1373.8 L159.9 1371.0 L164.3 1368.1 L168.7 1365.3 L173.1 1362.5 L177.5 1359.8 L181.9 1357.2 L186.4 1354.5 L190.8 1351.9 L195.2 1349.4 L199.6 1346.8 L204.0 1344.3 L208.4 1341.7 L212.8 1339.1 L217.2 1336.5 L221.7 1333.9 L226.1 1331.2 L230.5 1328.4 L234.9 1325.7 L239.3 1322.9 L243.7 1320.0 L248.1 1317.1 L252.5 1314.1 L256.9 1311.1 L261.4 1308.0 L265.8 1304.8 L270.2 1301.6 L274.6 1298.3 L279.0 1295.0 L283.4 1291.5 L287.8 1288.0 L292.2 1284.4 L296.6 1280.8 L301.1 1277.0 L305.5 1273.1 L309.9 1269.2 L314.3 1265.2 L318.7 1261.0 L323.1 1256.8 L327.5 1252.5 L331.9 1248.1 L336.3 1243.6 L340.8 1239.0 L345.2 1234.3 L349.6 1229.5 L354.0 1224.6 L358.4 1219.6 L362.8 1214.5 L367.2 1209.2 L371.6 1203.9 L376.0 1198.5 L380.5 1192.9 L384.9 1187.3 L389.3 1181.5 L393.7 1175.6 L398.1 1169.6 L402.5 1163.5 L406.9 1157.2 L411.3 1150.9 L415.8 1144.4 L420.2 1137.8 L424.6 1131.1 L429.0 1124.2 L433.4 1117.2 L437.8 1110.1 L442.2 1102.9 L446.6 1095.5 L451.0 1088.0 L455.5 1080.4 L459.9 1072.7 L464.3 1064.8 L468.7 1056.7 L473.1 1048.6 L473.1 1156.6 L468.7 1161.5 L464.3 1166.4 L459.9 1171.4 L455.5 1176.5 L451.0 1181.5 L446.6 1186.6 L442.2 1191.7 L437.8 1196.9 L433.4 1202.0 L429.0 1207.2 L424.6 1212.4 L420.2 1217.5 L415.8 1222.7 L411.3 1227.8 L406.9 1232.9 L402.5 1238.0 L398.1 1243.1 L393.7 1248.1 L389.3 1253.1 L384.9 1258.1 L380.5 1263.0 L376.0 1267.9 L371.6 1272.6 L367.2 1277.4 L362.8 1282.0 L358.4 1286.6 L354.0 1291.1 L349.6 1295.5 L345.2 1299.8 L340.8 1304.1 L336.3 1308.2 L331.9 1312.2 L327.5 1316.1 L323.1 1319.9 L318.7 1323.6 L314.3 1327.1 L309.9 1330.5 L305.5 1333.8 L301.1 1336.9 L296.6 1339.9 L292.2 1342.7 L287.8 1345.4 L283.4 1348.1 L279.0 1350.6 L274.6 1353.1 L270.2 1355.5 L265.8 1357.9 L261.4 1360.3 L256.9 1362.7 L252.5 1365.1 L248.1 1367.5 L243.7 1370.0 L239.3 1372.4 L234.9 1374.7 L230.5 1376.9 L226.1 1379.0 L221.7 1381.0 L217.2 1382.8 L212.8 1384.4 L208.4 1385.8 L204.0 1387.0 L199.6 1388.0 L195.2 1388.8 L190.8 1389.5 L186.4 1390.0 L181.9 1390.4 L177.5 1390.6 L173.1 1390.7 L168.7 1390.8 L164.3 1390.7 L159.9 1390.7 L155.5 1390.6 L151.1 1390.7 L146.7 1390.8 L142.2 1391.1 L137.8 1391.5 L133.4 1392.3 L129.0 1393.3 L124.6 1394.6Z" fill="#d6d6d6"/>
<path d="M124.6 1391.9 L129.0 1390.6 L133.4 1389.2 L137.8 1387.9 L142.2 1386.6 L146.7 1385.2 L151.1 1383.8 L155.5 1382.4 L159.9 1381.0 L164.3 1379.6 L168.7 1378.1 L173.1 1376.6 L177.5 1375.0 L181.9 1373.4 L186.4 1371.8 L190.8 1370.1 L195.2 1368.4 L199.6 1366.6 L204.0 1364.8 L208.4 1362.9 L212.8 1361.0 L217.2 1359.0 L221.7 1357.0 L226.1 1354.8 L230.5 1352.6 L234.9 1350.4 L239.3 1348.0 L243.7 1345.6 L248.1 1343.1 L252.5 1340.5 L256.9 1337.8 L261.4 1335.1 L265.8 1332.2 L270.2 1329.3 L274.6 1326.2 L279.0 1323.1 L283.4 1319.8 L287.8 1316.5 L292.2 1313.0 L296.6 1309.4 L301.1 1305.8 L305.5 1301.9 L309.9 1298.0 L314.3 1294.0 L318.7 1289.9 L323.1 1285.7 L327.5 1281.4 L331.9 1276.9 L336.3 1272.4 L340.8 1267.8 L345.2 1263.2 L349.6 1258.4 L354.0 1253.5 L358.4 1248.6 L362.8 1243.6 L367.2 1238.5 L371.6 1233.3 L376.0 1228.1 L380.5 1222.8 L384.9 1217.5 L389.3 1212.1 L393.7 1206.6 L398.1 1201.1 L402.5 1195.5 L406.9 1189.8 L411.3 1184.2 L415.8 1178.4 L420.2 1172.7 L424.6 1166.9 L429.0 1161.0 L433.4 1155.2 L437.8 1149.2 L442.2 1143.3 L446.6 1137.3 L451.0 1131.4 L455.5 1125.4 L459.9 1119.3 L464.3 1113.3 L468.7 1107.2 L473.1 1101.2" fill="none" stroke="#000" stroke-width="2.5" stroke-linejoin="round"/>
<rect x="107.50" y="1030.30" width="383.10" height="383.50" fill="none" stroke="#000" stroke-width="1.9"/>
<text transform="translate(94.4 1096.9) scale(0.985 1.065)" font-size="30.0" text-anchor="end">0.4</text>
<text transform="translate(94.4 1170.6) scale(0.985 1.065)" font-size="30.0" text-anchor="end">0.3</text>
<text transform="translate(94.4 1244.2) scale(0.985 1.065)" font-size="30.0" text-anchor="end">0.2</text>
<text transform="translate(97.7 1317.6) scale(0.985 1.065)" font-size="30.0" text-anchor="end">0.1</text>
<text transform="translate(94.4 1391.2) scale(0.985 1.065)" font-size="30.0" text-anchor="end">0.0</text>
<text transform="translate(117.7 1446.5) scale(0.985 1.04)" font-size="30.0" text-anchor="middle">0</text>
<text transform="translate(236.3 1446.5) scale(0.985 1.04)" font-size="30.0" text-anchor="middle">2</text>
<text transform="translate(353.2 1446.5) scale(0.985 1.04)" font-size="30.0" text-anchor="middle">4</text>
<text transform="translate(473.0 1446.5) scale(0.985 1.04)" font-size="30.0" text-anchor="middle">6</text>
<path d="M101.95 1087.00H107.50M101.95 1160.67H107.50M101.95 1234.33H107.50M101.95 1307.67H107.50M101.95 1381.33H107.50M117.67 1413.80V1419.35M236.33 1413.80V1419.35M354.67 1413.80V1419.35M473.00 1413.80V1419.35" fill="none" stroke="#000" stroke-width="2.3"/>
<text transform="translate(299.1 1470.2) scale(1.0 1.0)" font-size="23.2" text-anchor="middle">%</text></g>
<g><text transform="translate(765.0 1023.0) scale(1.0 1.07)" font-size="29.8" text-anchor="middle">SSS</text>
<rect x="567.90" y="1030.50" width="384.30" height="383.30" fill="#fff"/>
<path d="M585.2 1203.1 L589.6 1206.9 L594.0 1210.2 L598.5 1212.9 L602.9 1215.0 L607.3 1216.7 L611.7 1217.9 L616.2 1218.6 L620.6 1218.9 L625.0 1218.8 L629.4 1218.2 L633.8 1217.3 L638.3 1215.9 L642.7 1214.3 L647.1 1212.3 L651.5 1209.9 L655.9 1207.3 L660.4 1204.4 L664.8 1201.2 L669.2 1197.8 L673.6 1194.2 L678.1 1190.4 L682.5 1186.3 L686.9 1182.1 L691.3 1177.8 L695.7 1173.3 L700.2 1168.7 L704.6 1163.9 L709.0 1159.0 L713.4 1154.0 L717.8 1148.8 L722.3 1143.5 L726.7 1138.1 L731.1 1132.5 L735.5 1126.9 L740.0 1121.1 L744.4 1115.2 L748.8 1109.2 L753.2 1103.2 L757.6 1097.2 L762.1 1091.2 L766.5 1085.4 L770.9 1079.9 L775.3 1074.6 L779.7 1069.6 L784.2 1065.1 L788.6 1061.0 L793.0 1057.4 L797.4 1054.4 L801.9 1051.9 L806.3 1050.0 L810.7 1048.7 L815.1 1048.1 L819.5 1048.1 L824.0 1048.7 L828.4 1050.1 L832.8 1052.2 L837.2 1055.0 L841.6 1058.6 L846.1 1063.0 L850.5 1068.4 L854.9 1074.7 L859.3 1082.0 L863.8 1090.4 L868.2 1100.0 L872.6 1110.7 L877.0 1122.8 L881.4 1136.2 L885.9 1150.9 L890.3 1166.9 L894.7 1184.3 L899.1 1202.9 L903.5 1222.1 L908.0 1241.1 L912.4 1259.0 L916.8 1275.3 L921.2 1290.5 L925.7 1305.4 L930.1 1320.5 L934.5 1336.5 L934.5 1396.5 L930.1 1384.8 L925.7 1373.3 L921.2 1362.1 L916.8 1351.2 L912.4 1340.5 L908.0 1330.2 L903.5 1320.3 L899.1 1310.6 L894.7 1301.3 L890.3 1292.4 L885.9 1283.8 L881.4 1275.6 L877.0 1267.8 L872.6 1260.4 L868.2 1253.4 L863.8 1246.9 L859.3 1240.8 L854.9 1235.2 L850.5 1230.0 L846.1 1225.2 L841.6 1220.9 L837.2 1217.0 L832.8 1213.5 L828.4 1210.5 L824.0 1207.8 L819.5 1205.4 L815.1 1203.5 L810.7 1201.8 L806.3 1200.6 L801.9 1199.6 L797.4 1199.0 L793.0 1198.6 L788.6 1198.5 L784.2 1198.7 L779.7 1199.2 L775.3 1199.9 L770.9 1200.9 L766.5 1202.0 L762.1 1203.4 L757.6 1205.0 L753.2 1206.8 L748.8 1208.7 L744.4 1210.7 L740.0 1212.9 L735.5 1215.2 L731.1 1217.6 L726.7 1220.0 L722.3 1222.5 L717.8 1225.0 L713.4 1227.5 L709.0 1229.9 L704.6 1232.4 L700.2 1234.7 L695.7 1237.0 L691.3 1239.1 L686.9 1241.2 L682.5 1243.1 L678.1 1244.8 L673.6 1246.3 L669.2 1247.6 L664.8 1248.8 L660.4 1249.7 L655.9 1250.4 L651.5 1250.9 L647.1 1251.2 L642.7 1251.3 L638.3 1251.1 L633.8 1250.8 L629.4 1250.3 L625.0 1249.6 L620.6 1248.9 L616.2 1248.1 L611.7 1247.4 L607.3 1246.9 L602.9 1246.5 L598.5 1246.5 L594.0 1246.8 L589.6 1247.6 L585.2 1248.9Z" fill="#d6d6d6"/>
<path d="M585.2 1225.6 L589.6 1227.4 L594.0 1229.0 L598.5 1230.4 L602.9 1231.6 L607.3 1232.6 L611.7 1233.3 L616.2 1233.9 L620.6 1234.3 L625.0 1234.4 L629.4 1234.4 L633.8 1234.1 L638.3 1233.7 L642.7 1233.0 L647.1 1232.1 L651.5 1230.9 L655.9 1229.6 L660.4 1228.0 L664.8 1226.3 L669.2 1224.2 L673.6 1222.0 L678.1 1219.6 L682.5 1216.9 L686.9 1214.0 L691.3 1210.8 L695.7 1207.5 L700.2 1203.9 L704.6 1200.2 L709.0 1196.4 L713.4 1192.4 L717.8 1188.4 L722.3 1184.3 L726.7 1180.1 L731.1 1176.0 L735.5 1171.8 L740.0 1167.7 L744.4 1163.6 L748.8 1159.6 L753.2 1155.7 L757.6 1152.0 L762.1 1148.4 L766.5 1145.0 L770.9 1141.7 L775.3 1138.8 L779.7 1136.0 L784.2 1133.6 L788.6 1131.4 L793.0 1129.6 L797.4 1128.1 L801.9 1127.0 L806.3 1126.4 L810.7 1126.2 L815.1 1126.5 L819.5 1127.3 L824.0 1128.6 L828.4 1130.6 L832.8 1133.1 L837.2 1136.3 L841.6 1140.2 L846.1 1144.7 L850.5 1149.9 L854.9 1155.8 L859.3 1162.4 L863.8 1169.5 L868.2 1177.3 L872.6 1185.6 L877.0 1194.5 L881.4 1204.0 L885.9 1214.0 L890.3 1224.6 L894.7 1235.8 L899.1 1247.6 L903.5 1260.1 L908.0 1273.2 L912.4 1287.0 L916.8 1301.5 L921.2 1316.8 L925.7 1332.8 L930.1 1349.6 L934.5 1367.3" fill="none" stroke="#000" stroke-width="2.5" stroke-linejoin="round"/>
<rect x="567.90" y="1030.50" width="384.30" height="383.30" fill="none" stroke="#000" stroke-width="1.9"/>
<text transform="translate(554.8 1055.7) scale(0.985 1.065)" font-size="30.0" text-anchor="end">0.2</text>
<text transform="translate(558.1 1161.0) scale(0.985 1.065)" font-size="30.0" text-anchor="end">0.1</text>
<text transform="translate(554.8 1266.4) scale(0.985 1.065)" font-size="30.0" text-anchor="end">0.0</text>
<text transform="translate(558.1 1371.4) scale(0.985 1.065)" font-size="30.0" text-anchor="end">-0.1</text>
<text transform="translate(639.6 1446.1) scale(0.985 1.04)" font-size="30.0" text-anchor="middle">37.02</text>
<text transform="translate(756.0 1446.1) scale(0.985 1.04)" font-size="30.0" text-anchor="middle">37.04</text>
<text transform="translate(872.3 1446.1) scale(0.985 1.04)" font-size="30.0" text-anchor="middle">37.06</text>
<path d="M562.35 1045.00H567.90M562.35 1150.33H567.90M562.35 1255.67H567.90M562.35 1360.67H567.90M643.33 1413.80V1419.35M759.67 1413.80V1419.35M876.00 1413.80V1419.35" fill="none" stroke="#000" stroke-width="2.3"/>
<text transform="translate(764.8 1479.7) scale(0.81 1.0)" font-size="28" text-anchor="middle">PSU</text></g>
<g><text transform="translate(1220.5 1022.2) scale(1.0 1.07)" font-size="29.8" text-anchor="middle">Rugosity</text>
<rect x="1027.90" y="1030.10" width="384.00" height="383.60" fill="#fff"/>
<path d="M1044.9 1364.8 L1049.3 1362.7 L1053.8 1360.6 L1058.2 1358.4 L1062.6 1356.2 L1067.0 1354.0 L1071.5 1351.9 L1075.9 1349.7 L1080.3 1347.5 L1084.7 1345.4 L1089.2 1343.3 L1093.6 1341.2 L1098.0 1339.2 L1102.4 1337.3 L1106.9 1335.4 L1111.3 1333.7 L1115.7 1332.0 L1120.2 1330.5 L1124.6 1329.2 L1129.0 1328.1 L1133.4 1327.2 L1137.9 1326.5 L1142.3 1326.1 L1146.7 1325.9 L1151.1 1326.0 L1155.6 1326.3 L1160.0 1326.9 L1164.4 1327.5 L1168.8 1328.4 L1173.3 1329.3 L1177.7 1330.2 L1182.1 1331.2 L1186.6 1332.2 L1191.0 1333.1 L1195.4 1334.0 L1199.8 1334.8 L1204.3 1335.4 L1208.7 1335.9 L1213.1 1336.1 L1217.5 1336.1 L1222.0 1335.9 L1226.4 1335.3 L1230.8 1334.4 L1235.2 1333.1 L1239.7 1331.5 L1244.1 1329.5 L1248.5 1327.2 L1252.9 1324.4 L1257.4 1321.3 L1261.8 1317.8 L1266.2 1313.9 L1270.7 1309.5 L1275.1 1304.8 L1279.5 1299.6 L1283.9 1294.1 L1288.4 1288.0 L1292.8 1281.6 L1297.2 1274.8 L1301.6 1267.6 L1306.1 1260.1 L1310.5 1252.3 L1314.9 1244.2 L1319.3 1235.8 L1323.8 1227.1 L1328.2 1218.2 L1332.6 1208.9 L1337.1 1199.5 L1341.5 1189.7 L1345.9 1179.7 L1350.3 1169.3 L1354.8 1158.7 L1359.2 1147.8 L1363.6 1136.5 L1368.0 1124.9 L1372.5 1113.0 L1376.9 1100.8 L1381.3 1088.2 L1385.7 1075.2 L1390.2 1061.7 L1394.6 1047.9 L1394.6 1067.4 L1390.2 1077.6 L1385.7 1088.1 L1381.3 1098.8 L1376.9 1109.7 L1372.5 1120.8 L1368.0 1131.9 L1363.6 1143.2 L1359.2 1154.5 L1354.8 1165.7 L1350.3 1177.0 L1345.9 1188.1 L1341.5 1199.2 L1337.1 1210.1 L1332.6 1220.8 L1328.2 1231.4 L1323.8 1241.7 L1319.3 1251.8 L1314.9 1261.5 L1310.5 1270.9 L1306.1 1279.9 L1301.6 1288.5 L1297.2 1296.7 L1292.8 1304.4 L1288.4 1311.6 L1283.9 1318.3 L1279.5 1324.5 L1275.1 1330.1 L1270.7 1335.3 L1266.2 1339.9 L1261.8 1344.1 L1257.4 1347.7 L1252.9 1350.8 L1248.5 1353.5 L1244.1 1355.7 L1239.7 1357.4 L1235.2 1358.6 L1230.8 1359.3 L1226.4 1359.7 L1222.0 1359.5 L1217.5 1359.0 L1213.1 1358.1 L1208.7 1357.0 L1204.3 1355.5 L1199.8 1353.9 L1195.4 1352.1 L1191.0 1350.1 L1186.6 1348.1 L1182.1 1346.0 L1177.7 1343.9 L1173.3 1341.8 L1168.8 1339.9 L1164.4 1338.1 L1160.0 1336.4 L1155.6 1335.0 L1151.1 1333.8 L1146.7 1333.0 L1142.3 1332.4 L1137.9 1332.3 L1133.4 1332.5 L1129.0 1333.1 L1124.6 1334.1 L1120.2 1335.3 L1115.7 1336.9 L1111.3 1338.9 L1106.9 1341.1 L1102.4 1343.6 L1098.0 1346.5 L1093.6 1349.6 L1089.2 1353.0 L1084.7 1356.6 L1080.3 1360.4 L1075.9 1364.5 L1071.5 1368.7 L1067.0 1373.1 L1062.6 1377.6 L1058.2 1382.2 L1053.8 1386.9 L1049.3 1391.7 L1044.9 1396.5Z" fill="#d6d6d6"/>
<path d="M1044.9 1380.7 L1049.3 1377.2 L1053.8 1373.7 L1058.2 1370.3 L1062.6 1366.9 L1067.0 1363.6 L1071.5 1360.3 L1075.9 1357.1 L1080.3 1354.0 L1084.7 1351.0 L1089.2 1348.1 L1093.6 1345.4 L1098.0 1342.8 L1102.4 1340.5 L1106.9 1338.3 L1111.3 1336.3 L1115.7 1334.5 L1120.2 1332.9 L1124.6 1331.6 L1129.0 1330.6 L1133.4 1329.9 L1137.9 1329.4 L1142.3 1329.3 L1146.7 1329.4 L1151.1 1329.9 L1155.6 1330.7 L1160.0 1331.6 L1164.4 1332.8 L1168.8 1334.1 L1173.3 1335.5 L1177.7 1337.1 L1182.1 1338.6 L1186.6 1340.1 L1191.0 1341.6 L1195.4 1343.0 L1199.8 1344.3 L1204.3 1345.5 L1208.7 1346.4 L1213.1 1347.1 L1217.5 1347.6 L1222.0 1347.7 L1226.4 1347.5 L1230.8 1346.9 L1235.2 1345.9 L1239.7 1344.4 L1244.1 1342.6 L1248.5 1340.3 L1252.9 1337.6 L1257.4 1334.5 L1261.8 1330.9 L1266.2 1326.9 L1270.7 1322.4 L1275.1 1317.5 L1279.5 1312.1 L1283.9 1306.2 L1288.4 1299.8 L1292.8 1293.0 L1297.2 1285.7 L1301.6 1278.1 L1306.1 1270.0 L1310.5 1261.6 L1314.9 1252.9 L1319.3 1243.8 L1323.8 1234.4 L1328.2 1224.8 L1332.6 1214.9 L1337.1 1204.8 L1341.5 1194.4 L1345.9 1183.9 L1350.3 1173.1 L1354.8 1162.2 L1359.2 1151.1 L1363.6 1139.9 L1368.0 1128.4 L1372.5 1116.9 L1376.9 1105.3 L1381.3 1093.5 L1385.7 1081.6 L1390.2 1069.7 L1394.6 1057.7" fill="none" stroke="#000" stroke-width="2.5" stroke-linejoin="round"/>
<rect x="1027.90" y="1030.10" width="384.00" height="383.60" fill="none" stroke="#000" stroke-width="1.9"/>
<text transform="translate(1014.8 1051.8) scale(0.985 1.065)" font-size="30.0" text-anchor="end">1.2</text>
<text transform="translate(1014.8 1139.7) scale(0.985 1.065)" font-size="30.0" text-anchor="end">0.8</text>
<text transform="translate(1014.8 1229.7) scale(0.985 1.065)" font-size="30.0" text-anchor="end">0.4</text>
<text transform="translate(1014.8 1319.3) scale(0.985 1.065)" font-size="30.0" text-anchor="end">0.0</text>
<text transform="translate(1014.8 1409.0) scale(0.985 1.065)" font-size="30.0" text-anchor="end">-0.4</text>
<text transform="translate(1044.7 1443.7) scale(0.985 1.04)" font-size="30.0" text-anchor="middle">0.0</text>
<text transform="translate(1141.0 1443.7) scale(0.985 1.04)" font-size="30.0" text-anchor="middle">0.1</text>
<text transform="translate(1237.3 1443.7) scale(0.985 1.04)" font-size="30.0" text-anchor="middle">0.2</text>
<text transform="translate(1333.7 1443.7) scale(0.985 1.04)" font-size="30.0" text-anchor="middle">0.3</text>
<path d="M1022.35 1039.33H1027.90M1022.35 1128.67H1027.90M1022.35 1218.67H1027.90M1022.35 1308.33H1027.90M1022.35 1398.00H1027.90M1044.67 1413.70V1419.25M1141.00 1413.70V1419.25M1237.33 1413.70V1419.25M1333.67 1413.70V1419.25" fill="none" stroke="#000" stroke-width="2.3"/>
<text transform="translate(1209.9 1477.6) scale(0.918 1.0)" font-size="28.5" text-anchor="middle">Scaled 0-1</text></g>
<text transform="translate(24.6 770.8) rotate(-90) scale(1.10 1)" font-size="28.2" text-anchor="middle"><tspan font-style="italic">f</tspan>(x)</text>
</svg>
</body></html>
